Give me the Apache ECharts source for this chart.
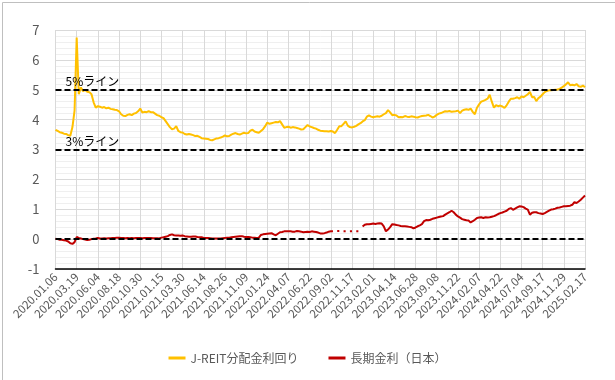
<!DOCTYPE html>
<html>
<head>
<meta charset="utf-8">
<script src="https://cdn.jsdelivr.net/npm/echarts@6/dist/echarts.min.js"></script>
<style>html,body{margin:0;padding:0;background:#fff;}#c{width:615px;height:380px;}</style>
</head>
<body>
<div id="c"></div>
<script>
const tickLabels = ['2020.01.06','2020.03.19','2020.06.04','2020.08.18','2020.10.30','2021.01.15','2021.03.30','2021.06.14','2021.08.26','2021.11.09','2022.01.24','2022.04.07','2022.06.22','2022.09.02','2022.11.17','2023.02.01','2023.04.14','2023.06.28','2023.09.08','2023.11.22','2024.02.07','2024.04.22','2024.07.04','2024.09.17','2024.11.29','2025.02.17'];
const samplesPerTick = 10;
const seriesNames = ['J-REIT分配金利回り', '長期金利（日本）'];
const lineLevels = [5, 3, 0];
const lineLabels = ['5%ライン', '3%ライン', ''];

const jreitYield = [
3.66,3.62,3.58,3.56,3.53,3.52,3.48,3.46,3.75,4.30,
6.75,4.85,5.08,4.95,5.00,4.93,4.92,4.85,4.58,4.40,
4.45,4.43,4.40,4.42,4.38,4.40,4.36,4.35,4.33,4.32,
4.28,4.18,4.13,4.12,4.16,4.18,4.15,4.20,4.22,4.28,
4.37,4.24,4.26,4.25,4.28,4.25,4.25,4.20,4.15,4.13,
4.08,4.05,3.95,3.85,3.75,3.68,3.70,3.78,3.62,3.58,
3.57,3.52,3.50,
3.52,3.50,3.48,3.45,3.46,3.42,3.38,
3.37,3.36,3.35,3.32,3.31,3.34,3.37,3.38,3.40,3.43,
3.47,3.44,3.45,3.50,3.53,3.55,3.52,3.50,3.53,3.56,
3.54,3.55,3.63,3.66,3.60,3.58,3.56,3.62,3.68,3.78,
3.90,3.86,3.88,3.90,3.92,3.91,3.95,3.84,3.73,3.75,
3.76,3.73,3.75,3.74,3.72,3.70,3.67,3.68,3.75,3.82,
3.77,3.75,3.72,3.70,3.66,3.63,
3.62,3.61,3.61,3.60,
3.62,3.60,3.55,3.66,3.78,3.78,3.86,3.94,3.80,3.75,
3.74,3.76,3.79,3.84,3.88,3.94,3.98,4.10,4.14,4.10,
4.08,4.10,4.11,4.10,4.13,4.18,4.22,4.32,4.24,4.15,
4.16,4.14,4.08,4.09,4.08,4.12,4.10,4.09,4.11,4.10,
4.08,4.07,4.10,4.12,4.13,4.14,4.16,4.12,4.07,4.10,
4.16,4.20,4.22,4.25,4.28,4.27,4.29,4.26,4.27,4.28,
4.30,
4.22,4.30,4.33,4.35,4.33,4.37,4.26,4.18,4.40,
4.51,4.60,4.63,4.66,4.70,4.83,4.60,4.40,4.48,4.45,
4.47,4.44,4.39,4.48,4.60,4.70,4.70,4.72,4.75,4.70,
4.78,4.75,4.80,4.85,4.93,4.75,4.76,4.62,4.72,4.77,
4.85,4.92,4.96,4.98,4.98,4.99,5.00,5.01,5.03,5.07,
5.12,5.18,5.25,5.15,5.17,5.15,5.19,5.12,5.10,5.14,
5.08
];

const jgbYield = [
0.01,0.00,-0.02,-0.02,-0.04,-0.05,-0.08,-0.14,-0.16,-0.10,
0.07,0.04,0.02,0.00,-0.01,-0.03,-0.02,0.00,0.01,0.02,
0.04,0.02,0.02,0.03,0.02,0.03,0.03,0.04,0.04,0.05,
0.05,0.04,0.04,0.03,0.04,0.03,0.04,0.03,0.04,0.04,
0.04,0.03,0.04,0.04,0.04,0.04,0.03,0.03,0.03,0.02,
0.05,0.06,0.08,0.10,0.14,0.16,0.13,0.12,0.12,0.11,
0.12,0.10,0.09,
0.08,0.08,0.09,0.09,0.07,0.06,0.06,
0.04,0.04,0.04,0.03,0.02,0.02,0.02,0.02,0.02,0.03,
0.04,0.05,0.05,0.06,0.07,0.08,0.09,0.10,0.10,0.08,
0.07,0.07,0.06,0.05,0.05,0.04,0.05,0.14,0.16,0.17,
0.18,0.19,0.20,0.16,0.13,0.18,0.23,0.24,0.26,0.26,
0.26,0.26,0.25,0.25,0.27,0.26,0.25,0.23,0.24,0.25,
0.24,0.26,0.25,0.24,0.22,0.19,
0.19,0.20,0.22,0.25,
0.26,0.26,null,0.27,0.27,null,0.26,0.26,null,0.26,
0.26,null,0.26,0.26,null,0.42,0.48,0.50,0.50,0.51,
0.52,0.51,0.52,0.53,0.52,0.43,0.26,0.32,0.40,0.50,
0.49,0.47,0.46,0.44,0.43,0.43,0.42,0.41,0.40,0.36,
0.39,0.43,0.46,0.50,0.60,0.64,0.63,0.65,0.68,0.70,
0.72,0.74,0.76,0.77,0.82,0.86,0.90,0.95,0.90,0.82,
0.76,
0.72,0.67,0.65,0.63,0.62,0.56,0.60,0.65,0.71,
0.72,0.73,0.71,0.73,0.72,0.73,0.75,0.77,0.80,0.84,
0.87,0.89,0.92,0.95,1.01,1.04,0.98,1.02,1.06,1.10,
1.09,1.07,1.02,0.99,0.82,0.88,0.90,0.90,0.87,0.86,
0.84,0.87,0.91,0.95,0.99,1.00,1.02,1.05,1.06,1.08,
1.10,1.10,1.11,1.12,1.15,1.24,1.21,1.26,1.32,1.39,
1.46
];

const FONT = '"Noto Sans CJK JP", "Noto Sans", sans-serif';
const toXY = arr => arr.map((v, i) => [i / samplesPerTick, v]);

const chart = echarts.init(document.getElementById('c'), null, {renderer: 'canvas'});
chart.setOption({
  animation: false,
  backgroundColor: '#fff',
  textStyle: {fontFamily: FONT},
  graphic: [{
    type: 'rect', left: 0, top: 0, silent: true,
    shape: {x: 0.5, y: 0.5, width: 614, height: 379},
    style: {fill: 'none', stroke: '#bfbfbf', lineWidth: 1}
  }],
  grid: {left: 55.5, right: 30, top: 30, bottom: 111, containLabel: false},
  legend: {
    top: 347, left: 'center',
    itemWidth: 17, itemHeight: 3, itemGap: 30, icon: 'rect',
    textStyle: {fontSize: 12, color: '#595959', fontFamily: FONT},
    data: seriesNames
  },
  xAxis: {
    type: 'value', min: 0, max: tickLabels.length - 1, interval: 1,
    axisLine: {show: true, onZero: false, lineStyle: {color: '#000', width: 1.5}},
    axisTick: {show: false},
    splitLine: {show: true, lineStyle: {color: '#d9d9d9', width: 1}},
    axisLabel: {
      rotate: 45, fontSize: 11.5, color: '#595959', margin: 6, fontFamily: FONT,
      formatter: v => tickLabels[Math.round(v)] || ''
    }
  },
  yAxis: {
    type: 'value', min: -1, max: 7, interval: 1,
    axisLine: {show: false}, axisTick: {show: false},
    axisLabel: {fontSize: 13, color: '#595959', margin: 16, fontFamily: FONT},
    splitLine: {lineStyle: {color: '#d9d9d9', width: 1}},
    minorTick: {show: false, splitNumber: 5},
    minorSplitLine: {show: true, lineStyle: {color: '#efefef', width: 1}}
  },
  series: [
    {
      name: seriesNames[0], type: 'line', data: toXY(jreitYield),
      showSymbol: false, symbol: 'none',
      lineStyle: {color: '#FFC000', width: 2}, itemStyle: {color: '#FFC000'},
      z: 3,
      markLine: {
        silent: true, symbol: 'none', animation: false,
        lineStyle: {color: '#000', type: [6, 3], width: 2},
        label: {show: true, position: 'insideStartTop', distance: [10, 2], color: '#000', fontSize: 12, fontFamily: FONT},
        data: lineLevels.map((lv, i) => ({
          yAxis: lv,
          label: {show: lineLabels[i] !== '', formatter: lineLabels[i]}
        }))
      }
    },
    {
      name: seriesNames[1], type: 'line', data: toXY(jgbYield),
      showSymbol: false, symbol: 'none', connectNulls: false,
      lineStyle: {color: '#C00000', width: 2}, itemStyle: {color: '#C00000'},
      z: 4
    }
  ]
});
</script>
</body>
</html>
